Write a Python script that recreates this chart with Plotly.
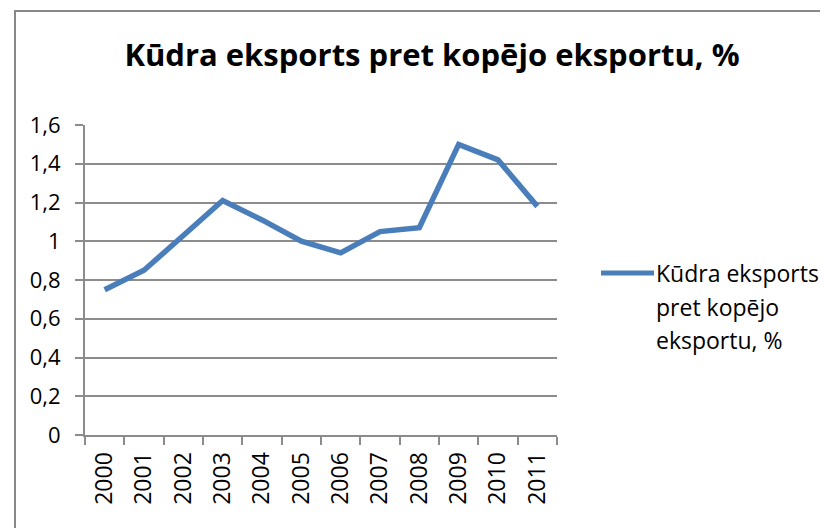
import plotly.graph_objects as go

years = ["2000", "2001", "2002", "2003", "2004", "2005", "2006", "2007", "2008", "2009", "2010", "2011"]
values = [0.75, 0.85, 1.03, 1.21, 1.11, 1.00, 0.94, 1.05, 1.07, 1.50, 1.42, 1.18]
legend_lines = ["Kūdra eksports", "pret kopējo", "eksportu, %"]
title_text = "Kūdra eksports pret kopējo eksportu, %"
ytick_vals = [0, 0.2, 0.4, 0.6, 0.8, 1.0, 1.2, 1.4, 1.6]
ytick_text = ["0", "0,2", "0,4", "0,6", "0,8", "1", "1,2", "1,4", "1,6"]

FONT = "Open Sans"
GRID = "#8c8c8c"
LINE = "#4a7ebb"

# page body has an 8px margin; figure coords = page coords - 8
W, H = 828, 528
L, T, R, B = 77, 117, 549, 427
pw, ph = R - L, B - T

def px(fx):
    return (fx - L) / pw

def py(fy):
    return (B - fy) / ph

fig = go.Figure()
fig.add_trace(go.Scatter(
    x=years, y=values, mode="lines", name=" ".join(legend_lines),
    line=dict(color=LINE, width=5.5), showlegend=False,
))

annotations = []
for i, txt in enumerate(legend_lines):
    annotations.append(dict(text=txt, xref="paper", yref="paper", x=px(646), y=py(265 + 33.5 * i),
                            xanchor="left", yanchor="middle", showarrow=False,
                            font=dict(family=FONT, size=23, color="black")))

fig.update_layout(
    width=W, height=H,
    margin=dict(l=L, r=W - R, t=T, b=H - B),
    paper_bgcolor="white", plot_bgcolor="white",
    font=dict(family=FONT, color="black", size=22),
    title=dict(text="<b>" + title_text + "</b>", x=424 / W, xanchor="center",
               y=1 - 47 / H, yanchor="middle", font=dict(family=FONT, size=31)),
    showlegend=False,
    xaxis=dict(type="category", showgrid=False, showline=True, linecolor=GRID, linewidth=2,
               ticks="outside", ticklen=8, tickcolor=GRID, tickwidth=2,
               tickson="boundaries", tickangle=-90, tickfont=dict(size=23),
               ticklabelstandoff=6,
               range=[-0.5, 11.5], fixedrange=True),
    yaxis=dict(range=[0, 1.6], tickvals=ytick_vals, ticktext=ytick_text,
               showgrid=True, gridcolor=GRID, gridwidth=2,
               showline=True, linecolor=GRID, linewidth=2,
               ticks="outside", ticklen=8, tickcolor=GRID, tickwidth=2,
               ticklabelstandoff=10, zeroline=False, tickfont=dict(size=22)),
    annotations=annotations,
    shapes=[
        dict(type="rect", xref="paper", yref="paper",
             x0=px(7), x1=px(W + 20), y0=py(H + 20), y1=py(3),
             line=dict(color="#888888", width=2), fillcolor="rgba(0,0,0,0)", layer="below"),
        dict(type="line", xref="paper", yref="paper",
             x0=px(593), x1=px(646), y0=py(265), y1=py(265),
             line=dict(color=LINE, width=5)),
    ],
)

fig.write_html("out.html")
